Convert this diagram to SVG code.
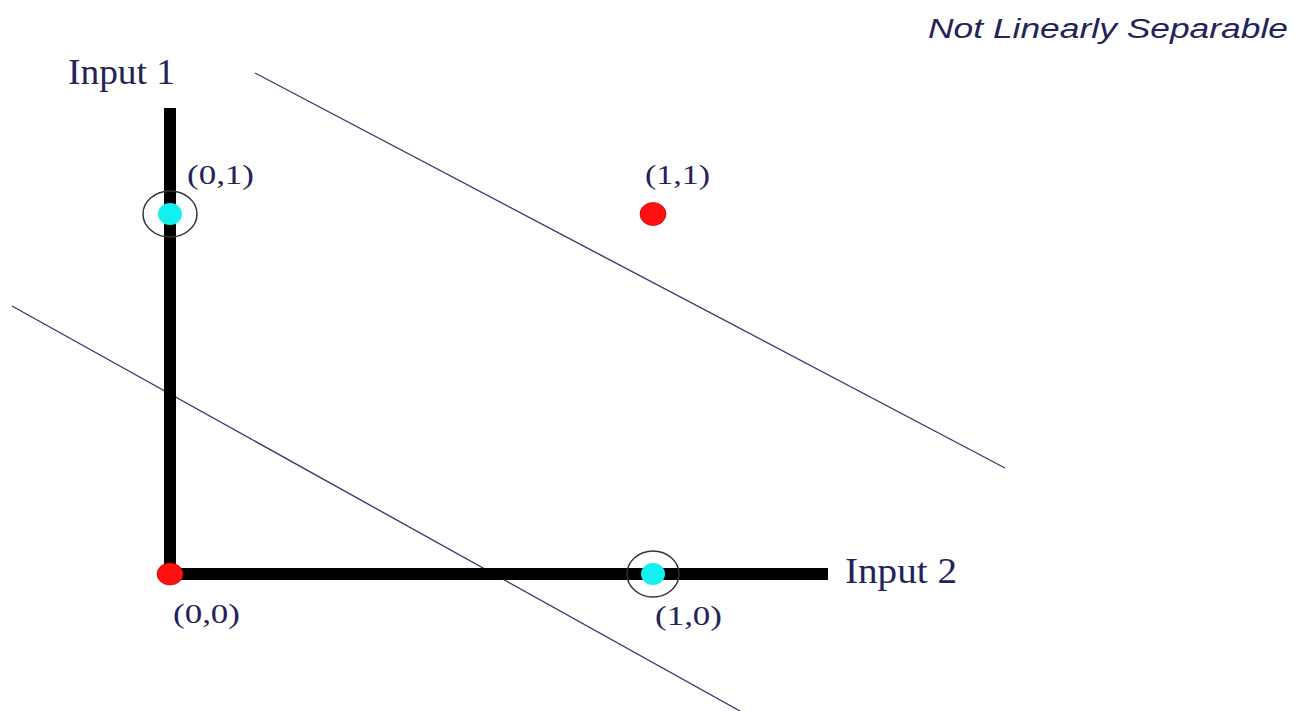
<svg xmlns="http://www.w3.org/2000/svg" width="1297" height="711" viewBox="0 0 1297 711">
<style>
.lbl{font-family:"Liberation Serif","Times New Roman",serif;fill:#23235a}
.sep{stroke:#3c3c6e;stroke-width:1.4;fill:none}
.axis{stroke:#000;stroke-width:12;fill:none}
.ring{fill:none;stroke:#333;stroke-width:1.5}
.red{fill:#ff0f0f;stroke:#a00;stroke-width:0.6}
.cyan{fill:#12f0f0}
</style>
<rect width="1297" height="711" fill="#fff"/>
<text x="928" y="38" font-family="Liberation Sans, Arial, sans-serif" font-style="italic" font-size="27" fill="#23235a" textLength="360" lengthAdjust="spacingAndGlyphs">Not Linearly Separable</text>
<g id="connectors">
<line class="sep" x1="255" y1="73" x2="1005" y2="468"/>
<line class="sep" x1="12" y1="306" x2="740" y2="711"/>
<line class="axis" x1="170" y1="108" x2="170" y2="574"/>
<line class="axis" x1="164" y1="574" x2="828" y2="574"/>
</g>
<g id="input1"><text class="lbl" x="68" y="84" font-size="36" textLength="107" lengthAdjust="spacingAndGlyphs">Input 1</text></g>
<g id="input2"><text class="lbl" x="845" y="583" font-size="36" textLength="112" lengthAdjust="spacingAndGlyphs">Input 2</text></g>
<g id="p01">
<ellipse class="ring" cx="170" cy="214" rx="27" ry="23"/>
<ellipse class="cyan" cx="170" cy="214" rx="12" ry="11"/>
<text class="lbl" x="187" y="184" font-size="27" textLength="67" lengthAdjust="spacingAndGlyphs">(0,1)</text>
</g>
<g id="p11">
<ellipse class="red" cx="653" cy="214" rx="13" ry="11.5"/>
<text class="lbl" x="645" y="184" font-size="27" textLength="65" lengthAdjust="spacingAndGlyphs">(1,1)</text>
</g>
<g id="p00">
<ellipse class="red" cx="170" cy="574" rx="13" ry="11"/>
<text class="lbl" x="173" y="623" font-size="27" textLength="67" lengthAdjust="spacingAndGlyphs">(0,0)</text>
</g>
<g id="p10">
<ellipse class="ring" cx="653" cy="574" rx="26" ry="23"/>
<ellipse class="cyan" cx="653" cy="574" rx="12" ry="11"/>
<text class="lbl" x="655" y="625" font-size="27" textLength="67" lengthAdjust="spacingAndGlyphs">(1,0)</text>
</g>
</svg>
